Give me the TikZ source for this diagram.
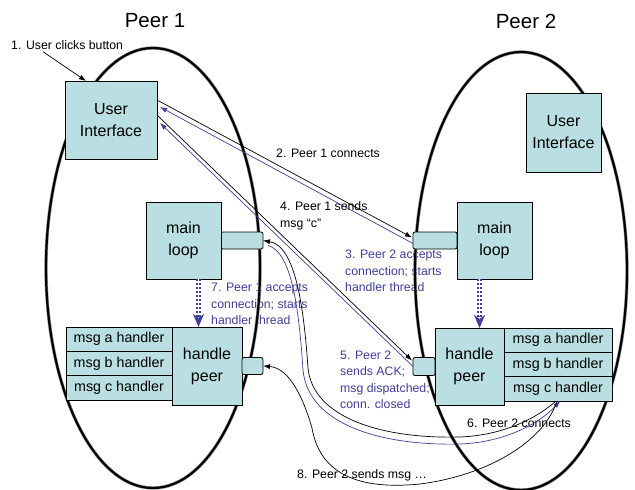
\documentclass[tikz,border=0pt]{standalone}
\usepackage{fontspec}
\setmainfont{Liberation Sans}
\usepackage{tikz}
\usetikzlibrary{calc,arrows.meta}
\definecolor{boxfill}{HTML}{B9DFE2}
\definecolor{reply}{HTML}{3F3F98}
\definecolor{halo}{HTML}{9A9A9A}
\tikzset{
  peerline/.style={draw=black, line width=2.2pt, preaction={draw=halo, line width=3.4pt}},
  box/.style={draw=black, fill=boxfill, line width=0.8pt, inner sep=0pt, outer sep=0pt, align=center, font=\fontsize{16}{22}\selectfont},
  handler/.style={box, minimum height=24.3pt, font=\fontsize{14.3}{17}\selectfont},
  port/.style={draw=black, fill=boxfill, line width=0.8pt, rounded corners=2pt, inner sep=0pt, outer sep=0pt, minimum height=17pt},
  title/.style={font=\fontsize{20.5}{24}\selectfont},
  lab/.style={font=\fontsize{12.3}{16.5}\selectfont, align=left, anchor=west, inner sep=0pt},
  replylab/.style={lab, text=reply},
  msgline/.style={draw=black, line width=0.7pt, -{Latex[length=7pt,width=5pt]}},
  replyline/.style={draw=reply, line width=0.7pt, -{Latex[length=7pt,width=5pt]}},
  spawn/.style={draw=reply, line width=5.5pt, dash pattern=on 2pt off 2pt, -{Stealth[length=13pt,width=11pt,inset=4pt]}},
  spawncore/.style={draw=white, line width=1.6pt, shorten >=12pt},
}

\begin{document}
\begin{tikzpicture}[x=1pt,y=-1pt]
  \useasboundingbox (0,0) rectangle (635,490);

  \node[title] (t1) at (155,21) {Peer 1};
  \node[title] (t2) at (526,21) {Peer 2};
  \node[lab] (click) at (11,45) {1. User clicks button};
  \node[lab] (l2) at (276,153) {2. Peer 1 connects};
  \node[lab] (l4) at (280,216) {4. Peer 1 sends\\msg ``c''};
  \node[replylab] (l3) at (345,271) {3. Peer 2 accepts\\connection; starts\\handler thread};
  \node[replylab] (l7) at (211,304) {7. Peer 1 accepts\\connection; starts\\handler thread};
  \node[replylab] (l5) at (340,380) {5. Peer 2\\sends ACK;\\msg dispatched;\\conn. closed};
  \node[lab] (l6) at (467,423) {6. Peer 2 connects};
  \node[lab] (l8) at (297,475) {8. Peer 2 sends msg \ldots};

  \draw[peerline] (153,268) ellipse [x radius=107, y radius=220];
  \draw[peerline] (521,271) ellipse [x radius=106, y radius=219];

  \node[box, minimum width=92pt, minimum height=78pt] (ui1) at (111,120) {User\\Interface};
  \node[port, anchor=west, minimum width=42pt] (mport1) at (221,240.5) {};
  \node[box, minimum width=75pt, minimum height=77pt] (main1) at (183.5,240.5) {main\\loop};
  \node[box, minimum width=70pt, minimum height=78pt] (hp1) at (207,366) {handle\\peer};
  \node[port, anchor=west, minimum width=21pt] (hport1) at (hp1.east) {};
  \node[handler, anchor=north east, minimum width=106pt] (ma1) at (hp1.north west) {msg a handler};
  \node[handler, anchor=north, minimum width=106pt] (mb1) at (ma1.south) {msg b handler};
  \node[handler, anchor=north, minimum width=106pt] (mc1) at (mb1.south) {msg c handler};

  \node[box, minimum width=75pt, minimum height=79pt] (ui2) at (563.5,132.5) {User\\Interface};
  \node[port, anchor=east, minimum width=44pt] (mport2) at (457,240.5) {};
  \node[box, minimum width=75pt, minimum height=77pt] (main2) at (494.5,240.5) {main\\loop};
  \node[box, minimum width=69pt, minimum height=77pt] (hp2) at (469.5,366.5) {handle\\peer};
  \node[port, anchor=east, minimum width=22pt, minimum height=18pt] (hport2) at (hp2.west) {};
  \node[handler, anchor=north west, minimum width=108pt] (ma2) at (hp2.north east) {msg a handler};
  \node[handler, anchor=north, minimum width=108pt] (mb2) at (ma2.south) {msg b handler};
  \node[handler, anchor=north, minimum width=108pt] (mc2) at (mb2.south) {msg c handler};

  \coordinate (s1) at ($(main1.south)+(15,0)$);
  \coordinate (s2) at ($(main2.south)+(-15,0)$);
  \draw[spawn] (s1) -- (s1 |- hp1.north);
  \draw[spawncore] (s1) -- (s1 |- hp1.north);
  \draw[spawn] (s2) -- (s2 |- hp2.north);
  \draw[spawncore] (s2) -- (s2 |- hp2.north);

  \draw[msgline] ($(click.south west)+(32,2)$) -- ($(ui1.north west)+(21,0)$);
  \draw[msgline] ($(ui1.east)+(0,-20)$) -- ($(mport2.west)+(-1,-3)$);
  \draw[replyline] ($(mport2.west)+(0,3)$) -- ($(ui1.east)+(3,-13)$);
  \draw[msgline] ($(ui1.east)+(1,-4)$) -- ($(hport2.west)+(-1,-6)$);
  \draw[replyline] (hport2.west) -- ($(ui1.east)+(3,3)$);

  \draw[msgline] ($(mc2.south)+(-3,1)$) .. controls (540,415) and (508,435) .. (460,437)
    .. controls (382,439) and (313,418) .. (308,368)
    .. controls (304,310) and (296,246) .. (mport1.east);
  \draw[replyline] ($(mport1.east)+(5,5)$) .. controls (292,252) and (299,310) .. (303,370)
    .. controls (308,424) and (380,446) .. (460,444)
    .. controls (512,442) and (545,418) .. ($(mc2.south)+(2,0)$);
  \draw[msgline] ($(mc2.south)+(-1,0)$) .. controls (545,440) and (490,475) .. (420,484)
    .. controls (360,490) and (320,475) .. (312,428)
    .. controls (304,400) and (290,368) .. (hport1.east);
\end{tikzpicture}
\end{document}
